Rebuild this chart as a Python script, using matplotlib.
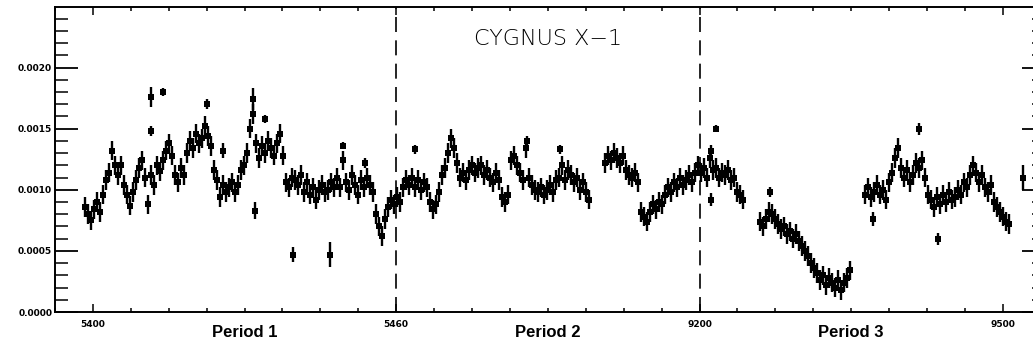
import matplotlib
matplotlib.use("Agg")
import matplotlib.pyplot as plt
import matplotlib.ticker as ticker
import numpy as np

# 데이터 (단위: 1e-4 counts)
seg1_range = (-2.6, 163.5)
seg1_rate = [8.6, 8.0, 7.5, 8.4, 9.0, 8.2, 9.6, 10.8, 11.4, 13.2, 12.0, 11.2, 12.0, 10.4, 9.6, 8.7,
             9.8, 10.8, 11.8, 12.4, 11.0, 8.8, 11.2, 10.4, 12.0, 11.5, 12.4, 13.2, 13.8, 12.8, 11.2,
             10.6, 11.8, 11.2, 13.0, 14.0, 13.4, 14.6, 13.8, 14.2, 15.2, 14.4, 13.6, 11.6, 10.8, 9.4,
             10.4, 9.8, 10.2, 10.6, 9.8, 10.4, 11.6, 12.0, 13.0, 15.0, 16.2, 13.8, 12.6, 13.6, 13.0,
             14.0, 13.4, 12.8, 13.8, 14.6, 12.8, 10.6, 10.2, 11.0, 10.8, 10.4, 11.2, 9.8, 10.6, 9.6,
             10.2, 9.2, 10.0, 10.4, 9.8, 10.0, 10.6, 10.2, 11.0, 10.2, 12.4, 10.6, 10.0, 11.2, 10.4,
             9.6, 10.8, 10.2, 11.0, 10.4, 9.8, 8.0, 7.0, 6.2, 7.6, 8.6, 9.2, 8.8, 9.4, 9.0, 10.2,
             10.8, 10.4, 11.0, 10.2, 10.8, 10.0, 10.6, 10.2, 9.0, 8.4, 8.8, 9.8, 11.2, 11.8, 13.0,
             14.2, 13.4, 12.2, 11.0, 11.4, 10.8, 11.6, 12.0, 11.4, 11.8, 12.0, 11.2, 11.6, 11.0, 10.6,
             11.4, 10.8, 9.4, 9.0, 9.6, 12.4, 12.8, 12.0, 11.4, 10.8, 13.4, 11.0, 10.4, 10.0, 9.8,
             10.2, 9.6, 10.0, 10.4, 9.8, 10.8, 11.0, 12.0, 10.8, 11.6, 11.2, 10.6, 11.0, 10.0, 10.6,
             9.8, 9.2]
seg2_range = (168.8, 214.3)
seg2_rate = [12.2, 12.8, 12.4, 13.0, 12.6, 12.2, 12.8, 11.6, 11.2, 11.0, 11.4, 10.6, 8.2, 7.8, 7.4,
             8.2, 8.8, 8.4, 9.0, 8.8, 9.6, 10.2, 9.8, 10.6, 10.2, 11.0, 10.4, 10.8, 11.2, 10.6, 11.4,
             12.0, 11.4, 11.8, 11.0, 12.6, 11.6, 11.8, 11.0, 11.4, 11.2, 11.6, 10.8, 11.0, 9.8, 9.6,
             9.2]
seg3_range = (219.9, 249.6)
seg3_rate = [7.4, 7.0, 7.6, 8.2, 8.0, 7.6, 7.2, 6.8, 7.0, 6.4, 6.6, 6.0, 6.4, 5.8, 5.4, 5.0, 4.6,
             4.0, 3.6, 3.2, 2.6, 3.0, 2.2, 2.8, 2.4, 2.0, 2.6, 1.8, 2.4, 2.8, 3.4]
seg4_range = (254.5, 302.0)
seg4_rate = [9.6, 10.2, 9.4, 9.8, 10.4, 9.6, 10.0, 9.2, 10.6, 11.4, 12.6, 13.4, 11.8, 11.0, 11.6,
             10.6, 11.2, 12.2, 11.8, 12.4, 11.0, 9.6, 9.2, 8.6, 9.4, 8.8, 9.6, 9.0, 9.8, 9.2, 9.4,
             10.0, 9.6, 10.6, 10.2, 11.2, 12.0, 11.4, 10.6, 11.2, 10.2, 9.8, 10.4, 9.0, 8.6, 8.2,
             7.8, 7.4, 7.2]
err_typical = 0.8

# 개별 점 (시간, 값, 오차)
single_t = [19.1, 19.1, 23.1, 37.6, 42.9, 52.8, 53.4, 56.7, 65.9, 78.1, 82.4, 89.7, 106.2,
            143.1, 154.0, 203.8, 203.8, 205.4, 223.2, 257.2, 272.3, 278.6, 306.6]
single_rate = [17.6, 14.8, 18.0, 17.0, 13.2, 17.4, 8.3, 15.8, 4.7, 4.7, 13.6, 12.2, 13.3,
               14.0, 13.3, 13.2, 9.2, 15.0, 9.8, 7.6, 15.0, 6.0, 11.0]
single_err = [0.8, 0.4, 0.3, 0.4, 0.6, 0.9, 0.7, 0.3, 0.6, 1.0, 0.3, 0.4, 0.4,
              0.4, 0.4, 0.5, 0.5, 0.3, 0.4, 0.6, 0.5, 0.5, 1.0]

period_bounds = [100, 200]
xtick_pos = [0, 100, 200, 300]
xtick_labels = ['5400', '5460', '9200', '9500']
period_labels = ['Period 1', 'Period 2', 'Period 3']
period_centers = [50, 150, 250]

# 그림
fig = plt.figure(figsize=(10.33, 3.54), dpi=100)
ax = fig.add_axes([55 / 1033, 42 / 354, 990 / 1033, 305 / 354])

errbar = dict(fmt='s', color='k', ms=3.8, capsize=3.2, elinewidth=1.7, capthick=1.7,
              mew=0, zorder=3)
for (t0, t1), rate in [(seg1_range, seg1_rate), (seg2_range, seg2_rate),
                       (seg3_range, seg3_rate), (seg4_range, seg4_rate)]:
    t = np.linspace(t0, t1, len(rate))
    ax.errorbar(t, np.array(rate) * 1e-4, yerr=err_typical * 1e-4, **errbar)
ax.errorbar(single_t, np.array(single_rate) * 1e-4, yerr=np.array(single_err) * 1e-4, **errbar)

for b in period_bounds:
    ax.axvline(b, color='k', lw=1.2, linestyle=(0, (9, 5)), zorder=2)

ax.set_xlim(-12.5, 313.9)
ax.set_ylim(0, 0.002495)

# 축 설정
ax.set_xticks(xtick_pos, xtick_labels)
ax.xaxis.set_minor_locator(ticker.MultipleLocator(12.5))
ax.yaxis.set_major_locator(ticker.MultipleLocator(0.0005))
ax.yaxis.set_minor_locator(ticker.MultipleLocator(0.0001))
ax.yaxis.set_major_formatter(ticker.FormatStrFormatter('%.4f'))
ax.tick_params(axis='x', which='major', direction='in', length=5.5, width=1.1,
               top=True, pad=6, labelsize=6.5)
ax.tick_params(axis='x', which='minor', direction='in', length=3, width=1.1, top=True)
ax.tick_params(axis='y', which='major', direction='in', length=16.5, width=1.3,
               right=True, pad=2, labelsize=6.5)
ax.tick_params(axis='y', which='minor', direction='in', length=9.5, width=1.1, right=True)
for lab in ax.get_xticklabels() + ax.get_yticklabels():
    lab.set_fontweight('bold')
for sp in ax.spines.values():
    sp.set_linewidth(1.4)

for c, lab in zip(period_centers, period_labels):
    ax.text(c, -0.00017, lab, ha='center', va='center', fontsize=12, fontweight='bold',
            family='Liberation Sans')

ax.text(150, 0.00223, 'CYGNUS X\u22121', ha='center', va='center', fontsize=16,
        fontweight='light')

fig.savefig('out.png', dpi=100)
